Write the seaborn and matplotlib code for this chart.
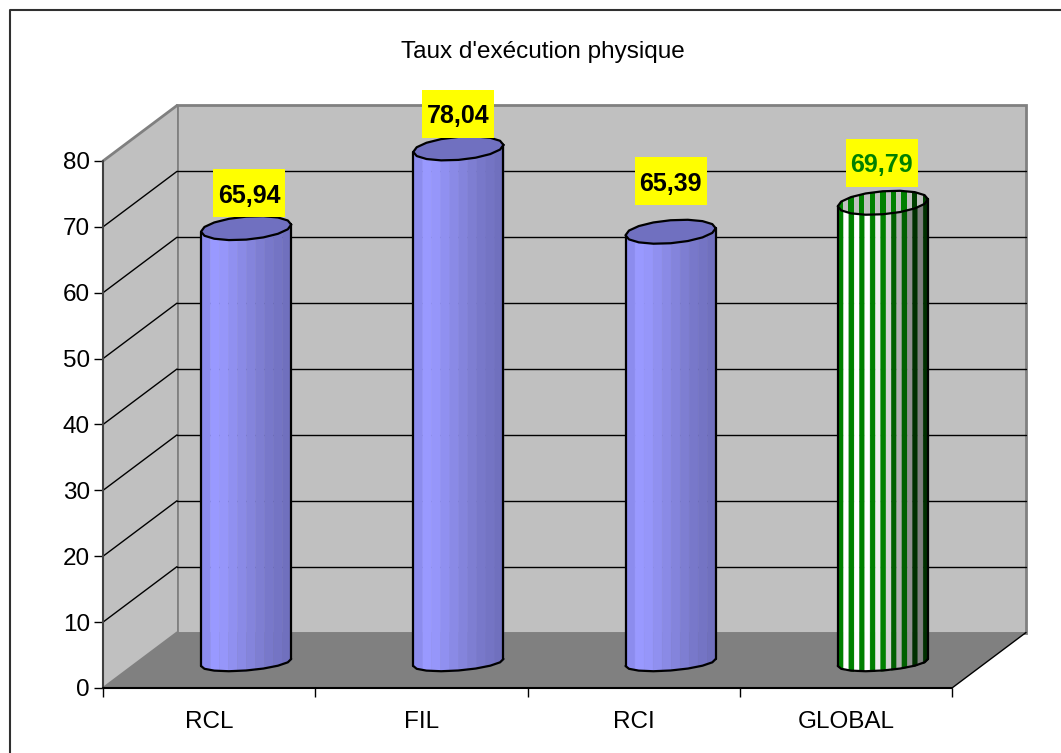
import numpy as np
import pandas as pd
import matplotlib
matplotlib.use("Agg")
import matplotlib.pyplot as plt
from matplotlib.lines import Line2D
from matplotlib.patches import Polygon, Rectangle
from matplotlib.transforms import ScaledTranslation
import seaborn as sns

categories = ["RCL", "FIL", "RCI", "GLOBAL"]
values = [65.94, 78.04, 65.39, 69.79]
value_labels = ["65,94", "78,04", "65,39", "69,79"]
yticks = [0, 10, 20, 30, 40, 50, 60, 70, 80]
title = "Taux d'exécution physique"

sns.set_theme(style="white")
plt.rcParams["font.family"] = ["Liberation Sans", "DejaVu Sans"]

W, H = 1061, 753
fig = plt.figure(figsize=(W / 100, H / 100), dpi=100)
ax = fig.add_axes([103 / W, (H - 688) / H, 849 / W, 527 / H])

df = pd.DataFrame({"cat": categories, "val": values})
sns.barplot(data=df, x="cat", y="val", ax=ax, color="#9999FF", width=0.425,
            saturation=1, zorder=3)
ax.set_xlim(-0.5, 3.5)
ax.set_ylim(0, 80)
ax.set_xlabel("")
ax.set_ylabel("")
ax.set_yticks(yticks)
ax.patch.set_visible(False)
for s in ax.spines.values():
    s.set_visible(False)


def shifted(dx, dy):
    return ax.transData + ScaledTranslation(dx / 100, dy / 100, fig.dpi_scale_trans)


back = shifted(74, 55.5)
mid = shifted(37, 25.5)
x0, x1 = ax.get_xlim()
y0, y1 = ax.get_ylim()
px_x = (x1 - x0) / 849
px_y = (y1 - y0) / 527


def corner(x, y):
    return ax.transData.inverted().transform(back.transform((x, y)))


def depth_line(x, y, **kw):
    # line from the front plane to the back plane
    c = corner(x, y)
    ax.plot([x, c[0]], [y, c[1]], clip_on=False, **kw)


# walls and floor
ax.add_patch(Rectangle((x0, y0), x1 - x0, y1 - y0, transform=back, fc="#C0C0C0",
                       ec="#808080", lw=2, clip_on=False, zorder=1))
ax.add_patch(Polygon([(x0, y0), (x0, y1), corner(x0, y1), corner(x0, y0)],
                     fc="#C0C0C0", ec="none", clip_on=False, zorder=1))
ax.add_patch(Polygon([(x0, y0), (x1, y0), corner(x1, y0), corner(x0, y0)],
                     fc="#808080", ec="none", clip_on=False, zorder=1.2))

for t in yticks[1:-1]:
    ax.plot([x0, x1], [t, t], transform=back, color="black", lw=1, clip_on=False, zorder=1.1)
    depth_line(x0, t, color="black", lw=1, zorder=1.1)

depth_line(x0, y1, color="#808080", lw=2, zorder=1.3)
depth_line(x0, y0, color="#808080", lw=1.5, zorder=1.3)
depth_line(x1, y0, color="black", lw=1, zorder=1.3)
ax.plot([x0, x0], [y0, y1], color="#404040", lw=1.5, clip_on=False, zorder=1.4)
ax.plot([x0, x1], [y0, y0], color="black", lw=1.5, clip_on=False, zorder=1.4)

# axis ticks
ax.set_xticks(np.arange(-0.5, 4), minor=True)
ax.tick_params(axis="x", which="major", length=0, labelsize=17.5, pad=16.5, colors="black")
ax.tick_params(axis="x", which="minor", length=6.5, width=1, color="black", bottom=True)
ax.tick_params(axis="y", length=6.5, width=1, labelsize=17.5, pad=3, colors="black", left=True)
ax.set_title(title, x=0.518, y=1.18, fontsize=17.5, color="black")

# cylinders on top of the seaborn bars
blue_bands = ["#8C8CEE", "#9999FF", "#9696FA", "#9090F0", "#8A8AE6", "#8484DC",
              "#7E7ED2", "#7878CA", "#7474C4", "#7070BE"]
theta = np.linspace(0, 2 * np.pi, 17)
theta_front = np.linspace(np.pi, 2 * np.pi, 9)
n_stripes = 17


def rim_shape(t, depth):
    return (3.5 * np.cos(t) + depth * np.sin(t)) * px_y


for i, bar in enumerate(ax.containers[0]):
    xc = bar.get_x() + bar.get_width() / 2
    half = bar.get_width() / 2
    top = bar.get_height()
    bar.set_visible(False)

    rim_x = half * np.cos(theta_front)
    rim_y = rim_shape(theta_front, 8)
    if i < 3:
        edges = np.linspace(-half, half, len(blue_bands) + 1)
        cols = blue_bands
    else:
        edges = np.linspace(-half, half, n_stripes + 1)
        cols = []
        for k in range(n_stripes):
            f = k / n_stripes
            if k % 2 == 0:
                cols.append("#008000" if f < 0.55 else "#006000" if f < 0.8 else "#003000")
            else:
                g = int(np.interp(f, [0.3, 0.45, 0.6, 0.7, 0.85], [255, 232, 192, 160, 128]))
                cols.append("#%02x%02x%02x" % (g, g, g))
    for k, c in enumerate(cols):
        sx = np.linspace(edges[k], edges[k + 1], 6)
        rim = np.interp(sx, rim_x, rim_y)
        ax.fill_between(xc + sx, rim, top + rim, color=c, lw=0.3, transform=mid,
                        clip_on=False, zorder=3.1)
    ax.plot(xc + rim_x, rim_y, color="black", lw=1.6, transform=mid, clip_on=False, zorder=3.3)
    ax.plot([xc - half] * 2, [rim_y[0], top + rim_y[0]], color="black", lw=1.6, transform=mid,
            clip_on=False, zorder=3.3)
    ax.plot([xc + half] * 2, [rim_y[-1], top + rim_y[-1]], color="black", lw=1.6, transform=mid,
            clip_on=False, zorder=3.3)

    ex = xc + half * np.cos(theta)
    ey = top + rim_shape(theta, 11.5)
    if i < 3:
        ax.fill(ex, ey, fc="#7070C0", ec="none", transform=mid, clip_on=False, zorder=3.4)
    else:
        cap = ax.fill(ex, ey, fc="#C0C0C0", ec="none", transform=mid, clip_on=False, zorder=3.4)[0]
        for k in range(0, n_stripes, 2):
            st = ax.fill_between([xc + edges[k], xc + edges[k + 1]], top - 30 * px_y, top + 30 * px_y,
                                 color="#008000" if k / n_stripes < 0.8 else "#004000", lw=0,
                                 transform=mid, zorder=3.5)
            st.set_clip_path(cap)
    ax.plot(ex, ey, color="black", lw=1.6, transform=mid, clip_on=False, zorder=3.6)

# value labels
label_lift = [35, 34.5, 50.5, 40]
label_shift = [3, 0, 0, -1]
label_colors = ["black", "black", "black", "#008000"]
for i, bar in enumerate(ax.containers[0]):
    xc = bar.get_x() + bar.get_width() / 2
    tr = shifted(37 + label_shift[i], 25.5 + label_lift[i])
    ax.add_patch(Rectangle((xc - 36 * px_x, bar.get_height() - 24 * px_y), 72 * px_x, 48 * px_y,
                           transform=tr, fc="#FFFF00", ec="none", clip_on=False, zorder=4))
    ax.text(xc, bar.get_height(), value_labels[i], transform=tr, ha="center", va="center_baseline",
            fontsize=18, fontweight="bold", color=label_colors[i], clip_on=False, zorder=4.1)

# chart frame, only the top and left edges are visible
fig.add_artist(Line2D([9.5 / W, 9.5 / W, 1], [0, 1 - 10 / H, 1 - 10 / H], color="#303030", lw=1.5))

fig.savefig("out.png", dpi=100)
